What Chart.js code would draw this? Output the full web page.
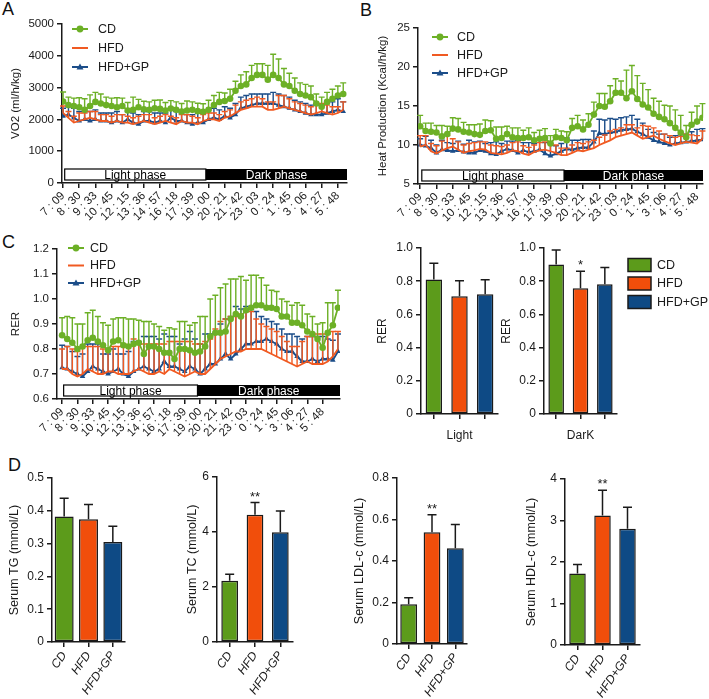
<!DOCTYPE html>
<html>
<head>
<meta charset="utf-8">
<script src="https://cdn.jsdelivr.net/npm/chart.js@4.4.1/dist/chart.umd.min.js"></script>
<style>
	body { margin: 0; background: #fff; }
	#page { position: relative; width: 709px; height: 699px; overflow: hidden; font-family: 'Liberation Sans', Arial, sans-serif; }
	canvas { position: absolute; }
	.tag { position: absolute; font-size: 18px; line-height: 1; color: #111; }
</style>
</head>
<body>
<div id="page">
	<div class="tag" style="left:2px;top:0px">A</div>
	<div class="tag" style="left:360px;top:1px">B</div>
	<div class="tag" style="left:2px;top:233px">C</div>
	<div class="tag" style="left:8px;top:456px">D</div>
	<canvas id="vo2"></canvas>
	<canvas id="heat"></canvas>
	<canvas id="rer"></canvas>
	<canvas id="rer-light"></canvas>
	<canvas id="rer-dark"></canvas>
	<canvas id="tg"></canvas>
	<canvas id="tc"></canvas>
	<canvas id="ldl"></canvas>
	<canvas id="hdl"></canvas>
</div>
<script>
const FONT = "'Liberation Sans', Arial, sans-serif"
Chart.defaults.font.family = FONT
Chart.defaults.color = '#1a1a1a'
Chart.defaults.animation = false

const groups = ['CD', 'HFD', 'HFD+GP']
const lineColors = ['#6cb026', '#f05a22', '#1b4d89']
const barColors = ['#5c9b1b', '#f14e0b', '#0e4a85']
const timeLabels = ['7 : 09', '8 : 30', '9 : 33', '10 : 45', '12 : 15', '13 : 36', '14 : 57', '16 : 18', '17 : 39',
	'19 : 00', '20 : 21', '21 : 42', '23 : 03', '0 : 24', '1 : 45', '3 : 06', '4 : 27', '5 : 48']
const lightStart = 0.3
const lightEnd = 26.5

// A - VO2 (ml/h/kg)
const vo2CD = [2560, 2450, 2420, 2380, 2300, 2420, 2550, 2500, 2450, 2420,
	2380, 2420, 2280, 2300, 2380, 2320, 2300, 2350, 2330, 2280,
	2340, 2300, 2250, 2280, 2300, 2260, 2240, 2300,
	2450, 2550, 2580, 2650, 2900, 3050, 3100, 3300, 3400, 3400, 3250, 3400, 3300, 3100,
	3050, 2900, 2800, 2750, 2700, 2500, 2400, 2550, 2650, 2750, 2800]
const vo2CDErr = [300, 250, 250, 300, 350, 350, 300, 300, 250, 250,
	300, 250, 250, 400, 250, 250, 250, 250, 280, 250,
	250, 250, 250, 300, 250, 250, 250, 300,
	300, 300, 250, 300, 300, 350, 400, 400, 350, 350, 450, 650, 600, 500,
	400, 400, 350, 350, 350, 300, 300, 300, 300, 300, 350]
const vo2HFD = [2200, 2050, 1900, 1950, 2000, 2050, 2000, 1950, 1950, 1900,
	1950, 1900, 1900, 1850, 1900, 1950, 1900, 1850, 1900, 1950,
	1900, 1850, 1950, 1900, 1900, 1850, 1950, 2000,
	2000, 1950, 2050, 2100, 2200, 2300, 2350, 2400, 2400, 2400, 2300, 2300, 2350, 2400,
	2350, 2300, 2250, 2200, 2150, 2200, 2250, 2200, 2150, 2200, 2300]
const vo2HFDErr = [220, 200, 200, 250, 200, 200, 250, 200, 200, 200,
	200, 250, 200, 200, 200, 200, 250, 200, 200, 200,
	200, 200, 200, 250, 200, 200, 200, 200,
	200, 200, 200, 200, 250, 250, 250, 250, 300, 250, 250, 250, 400, 350,
	300, 250, 250, 250, 250, 250, 250, 250, 250, 200, 250]
const vo2GP = [2100, 2150, 2050, 1950, 2000, 1950, 2000, 1950, 1950, 1900,
	1950, 1900, 2000, 1900, 1850, 1950, 1950, 1900, 1950, 1900,
	2050, 1950, 1950, 1900, 1850, 1900, 1900, 2000,
	2050, 2000, 2100, 2050, 2150, 2350, 2400, 2450, 2500, 2500, 2500, 2500, 2450, 2400,
	2350, 2300, 2250, 2200, 2150, 2150, 2150, 2200, 2250, 2300, 2250]
const vo2GPErr = [250, 250, 300, 300, 250, 300, 300, 250, 250, 300,
	300, 250, 250, 300, 300, 300, 300, 300, 250, 300,
	300, 300, 250, 250, 300, 300, 300, 300,
	300, 300, 300, 300, 350, 350, 350, 350, 300, 300, 300, 350, 350, 350,
	350, 300, 300, 300, 300, 300, 300, 300, 300, 350, 300]

// B - Heat production (Kcal/h/kg)
const heatCD = [12.4, 11.8, 11.7, 11.6, 11.1, 11.4, 12.1, 12.0, 11.7, 11.6,
	11.4, 11.3, 11.8, 11.9, 10.8, 10.9, 11.4, 11.0, 10.9, 10.9,
	11.0, 10.6, 10.8, 10.9, 10.2, 11.0, 10.9, 10.6,
	12.2, 12.4, 12.0, 12.6, 13.9, 15.0, 14.9, 15.6, 16.7, 16.7, 16.0, 16.9, 15.9, 15.2,
	14.8, 14.0, 13.6, 13.3, 12.8, 12.2, 11.6, 11.0, 12.6, 13.0, 13.5]
const heatCDErr = [1.4, 1.0, 1.1, 0.9, 1.4, 1.0, 1.4, 1.4, 1.2, 1.0,
	1.2, 1.4, 1.4, 1.2, 1.5, 1.4, 1.0, 1.2, 1.3, 1.0,
	1.2, 1.0, 1.1, 1.2, 1.0, 1.0, 0.9, 1.1,
	1.2, 1.4, 1.2, 1.4, 1.6, 1.6, 1.7, 2.0, 1.8, 1.5, 3.6, 3.3, 3.0, 2.7,
	2.3, 2.0, 2.0, 1.8, 2.2, 2.3, 2.2, 1.5, 1.6, 2.0, 1.8]
const heatHFD = [9.8, 10.0, 9.2, 8.9, 9.3, 9.6, 9.8, 9.4, 9.0, 9.2,
	9.3, 9.5, 9.4, 9.0, 8.9, 8.8, 9.0, 9.3, 9.2, 8.9,
	8.7, 9.1, 9.3, 9.4, 9.2, 9.0, 8.7, 8.7,
	9.0, 9.3, 9.2, 9.4, 9.6, 10.0, 10.3, 10.6, 11.0, 11.2, 11.4, 11.6, 11.2, 10.8,
	11.0, 11.2, 10.8, 10.5, 10.2, 10.0, 10.2, 10.4, 10.3, 10.2, 10.8]
const heatHFDErr = [1.4, 1.2, 1.0, 1.0, 1.2, 1.6, 1.0, 1.0, 1.0, 1.0,
	1.0, 0.9, 1.0, 1.0, 1.0, 1.0, 1.0, 1.0, 1.2, 1.0,
	1.0, 0.9, 1.0, 1.0, 1.0, 1.0, 0.9, 0.9,
	1.0, 1.0, 1.0, 1.0, 1.0, 1.0, 1.0, 1.2, 1.0, 1.0, 1.2, 1.0, 1.0, 1.7,
	1.4, 1.0, 1.0, 0.9, 1.0, 1.0, 0.9, 1.0, 1.0, 1.0, 1.0]
const heatGP = [10.0, 9.9, 9.6, 9.0, 9.4, 9.3, 9.2, 9.3, 9.1, 9.0,
	9.0, 9.3, 9.2, 8.9, 8.8, 9.2, 9.5, 9.3, 9.0, 9.3,
	9.1, 9.2, 9.4, 8.9, 8.6, 8.9, 9.2, 9.5,
	9.4, 9.6, 9.7, 9.7, 10.4, 11.5, 11.4, 11.6, 11.7, 11.9, 12.0, 12.1, 11.7, 11.4,
	11.0, 10.6, 10.4, 10.2, 10.0, 10.2, 10.3, 10.4, 10.5, 10.6, 10.7]
const heatGPErr = [0.8, 1.2, 1.0, 1.0, 1.2, 1.0, 1.0, 1.2, 1.0, 1.6,
	1.4, 1.2, 1.0, 1.4, 1.6, 1.0, 1.0, 1.2, 1.6, 1.0,
	1.2, 1.0, 1.2, 1.4, 1.6, 1.0, 1.0, 1.4,
	1.2, 1.0, 1.0, 1.0, 1.4, 1.8, 1.8, 1.8, 1.6, 1.6, 1.6, 1.7, 1.6, 1.4,
	1.0, 1.0, 1.0, 1.2, 1.0, 1.0, 1.0, 1.0, 1.2, 1.4, 1.4]

// C - RER time course
const rerCD = [0.855, 0.84, 0.825, 0.80, 0.81, 0.835, 0.845, 0.83, 0.815, 0.795,
	0.83, 0.835, 0.815, 0.81, 0.82, 0.825, 0.78, 0.81, 0.81, 0.80,
	0.785, 0.785, 0.76, 0.80, 0.80, 0.795, 0.785, 0.79, 0.81, 0.85,
	0.865, 0.865, 0.87, 0.92, 0.94, 0.93, 0.955, 0.965, 0.975, 0.975,
	0.965, 0.965, 0.96, 0.93, 0.93, 0.905, 0.905, 0.895, 0.87, 0.86,
	0.84, 0.805, 0.865, 0.895, 0.965]
const rerCDErr = [0.07, 0.09, 0.10, 0.10, 0.09, 0.11, 0.11, 0.10, 0.09, 0.10,
	0.09, 0.09, 0.11, 0.11, 0.10, 0.09, 0.13, 0.10, 0.09, 0.09,
	0.09, 0.10, 0.12, 0.11, 0.11, 0.10, 0.12, 0.14, 0.12, 0.15,
	0.15, 0.18, 0.19, 0.16, 0.14, 0.16, 0.12, 0.13, 0.12, 0.11,
	0.09, 0.07, 0.07, 0.07, 0.06, 0.07, 0.08, 0.08, 0.07, 0.07,
	0.06, 0.10, 0.12, 0.09, 0.07]
const rerHFD = [0.72, 0.72, 0.70, 0.69, 0.70, 0.72, 0.71, 0.70, 0.70, 0.71,
	0.71, 0.70, 0.70, 0.70, 0.71, 0.72, 0.71, 0.70, 0.70, 0.71,
	0.70, 0.72, 0.71, 0.70, 0.69, 0.70, 0.71, 0.70, 0.70, 0.72,
	0.74, 0.76, 0.77, 0.78, 0.79, 0.79, 0.80, 0.80, 0.80, 0.80,
	0.79, 0.78, 0.77, 0.76, 0.75, 0.74, 0.73, 0.74, 0.75, 0.74,
	0.74, 0.74, 0.75, 0.77, 0.80]
const rerHFDErr = [0.08, 0.09, 0.10, 0.10, 0.11, 0.09, 0.10, 0.11, 0.10, 0.09,
	0.10, 0.11, 0.12, 0.11, 0.13, 0.10, 0.11, 0.12, 0.12, 0.11,
	0.12, 0.11, 0.12, 0.13, 0.14, 0.13, 0.11, 0.12, 0.13, 0.12,
	0.14, 0.15, 0.15, 0.15, 0.14, 0.15, 0.15, 0.15, 0.12, 0.10,
	0.10, 0.10, 0.10, 0.09, 0.08, 0.07, 0.08, 0.09, 0.10, 0.11,
	0.12, 0.12, 0.11, 0.10, 0.07]
const rerGP = [0.725, 0.72, 0.71, 0.70, 0.69, 0.71, 0.73, 0.72, 0.71, 0.70,
	0.71, 0.72, 0.70, 0.69, 0.71, 0.72, 0.73, 0.72, 0.71, 0.72,
	0.75, 0.73, 0.73, 0.72, 0.71, 0.73, 0.72, 0.70, 0.72, 0.74,
	0.74, 0.76, 0.78, 0.76, 0.78, 0.80, 0.82, 0.82, 0.83, 0.83,
	0.84, 0.83, 0.82, 0.80, 0.79, 0.79, 0.77, 0.75, 0.75, 0.76,
	0.75, 0.76, 0.76, 0.755, 0.79]
const rerGPErr = [0.09, 0.09, 0.08, 0.07, 0.09, 0.11, 0.09, 0.10, 0.07, 0.08,
	0.09, 0.06, 0.08, 0.10, 0.12, 0.11, 0.12, 0.13, 0.14, 0.12,
	0.11, 0.12, 0.12, 0.10, 0.13, 0.14, 0.12, 0.12, 0.14, 0.12,
	0.12, 0.14, 0.14, 0.17, 0.19, 0.16, 0.15, 0.14, 0.12, 0.10,
	0.08, 0.08, 0.08, 0.08, 0.07, 0.07, 0.08, 0.09, 0.10, 0.09,
	0.10, 0.09, 0.08, 0.08, 0.07]

// C - RER by phase
const rerLight = [0.81, 0.71, 0.722]
const rerLightErr = [0.098, 0.092, 0.086]
const rerDark = [0.90, 0.758, 0.782]
const rerDarkErr = [0.088, 0.102, 0.10]
const rerDarkStars = ['', '*', '']

// D - serum lipids (mmol/L)
const tg = [0.383, 0.374, 0.305]
const tgErr = [0.055, 0.045, 0.048]
const tc = [2.23, 4.63, 3.99]
const tcErr = [0.23, 0.44, 0.77]
const ldl = [0.192, 0.538, 0.462]
const ldlErr = [0.031, 0.085, 0.114]
const hdl = [1.72, 3.12, 2.80]
const hdlErr = [0.22, 0.61, 0.52]
const lipidStars = ['', '**', '']

function fitTo(id, b) {
	const c = document.getElementById(id)
	c.width = b.R - b.L + b.yW + b.pr
	c.height = b.B - b.T + b.pt + b.xH
	c.style.left = b.L - b.yW + 'px'
	c.style.top = b.T - b.pt + 'px'
	return c
}
const fixY = w => s => { s.width = w; s.paddingTop = 0; s.paddingBottom = 0; s.paddingLeft = 0; s.paddingRight = 0 }
const fixX = h => s => { s.height = h; s.paddingTop = 0; s.paddingBottom = 0; s.paddingLeft = 0; s.paddingRight = 0 }
const ink = '#1a1a1a'
const axisLook = {
	border: { display: true, color: ink, width: 1.5 },
	grid: { drawOnChartArea: false, drawTicks: true, tickLength: 5, color: ink, lineWidth: 1.5 }
}

const lineErrors = {
	id: 'lineErrors',
	beforeDatasetDraw(chart, args) {
		const ds = chart.data.datasets[args.index]
		const y = chart.scales.y
		const ctx = chart.ctx
		ctx.save()
		ctx.strokeStyle = ds.borderColor
		ctx.lineWidth = 1.4
		args.meta.data.forEach((pt, i) => {
			const top = y.getPixelForValue(ds.data[i].y + ds.errors[i])
			ctx.beginPath()
			ctx.moveTo(pt.x, pt.y)
			ctx.lineTo(pt.x, top)
			ctx.moveTo(pt.x - 3, top)
			ctx.lineTo(pt.x + 3, top)
			ctx.stroke()
		})
		ctx.restore()
	}
}

function phaseBar(start, split) {
	return {
		id: 'phaseBar',
		afterDatasetsDraw(chart) {
			const { ctx, chartArea: a, scales: { x } } = chart
			const x0 = x.getPixelForValue(start)
			const x1 = x.getPixelForValue(split)
			const x2 = a.right
			const top = a.bottom - 14
			const h = 11
			ctx.save()
			ctx.fillStyle = '#fff'
			ctx.fillRect(x0, top, x1 - x0, h)
			ctx.strokeStyle = '#000'
			ctx.lineWidth = 1.2
			ctx.strokeRect(x0, top, x1 - x0, h)
			ctx.fillStyle = '#000'
			ctx.fillRect(x1, top, x2 - x1, h)
			ctx.font = '12px ' + FONT
			ctx.textAlign = 'center'
			ctx.textBaseline = 'middle'
			ctx.fillText('Light phase', (x0 + x1) / 2, top + h / 2 + 1)
			ctx.fillStyle = '#fff'
			ctx.fillText('Dark phase', (x1 + x2) / 2, top + h / 2 + 1)
			ctx.restore()
		}
	}
}

function seriesKey(dx, dy, gap, size, textGap) {
	return {
		id: 'seriesKey',
		afterDraw(chart) {
			const { ctx, chartArea: a } = chart
			ctx.save()
			chart.data.datasets.forEach((ds, k) => {
				const cx = a.left + dx
				const cy = a.top + dy + k * gap
				ctx.strokeStyle = ds.borderColor
				ctx.fillStyle = ds.borderColor
				ctx.lineWidth = 2
				ctx.beginPath()
				ctx.moveTo(cx - 8, cy)
				ctx.lineTo(cx + 8, cy)
				ctx.stroke()
				if (ds.pointRadius > 0 && ds.pointStyle === 'circle') {
					ctx.beginPath()
					ctx.arc(cx, cy, 3.4, 0, Math.PI * 2)
					ctx.fill()
				} else if (ds.pointRadius > 0 && ds.pointStyle === 'triangle') {
					ctx.beginPath()
					ctx.moveTo(cx, cy - 3.5)
					ctx.lineTo(cx + 3.5, cy + 2.5)
					ctx.lineTo(cx - 3.5, cy + 2.5)
					ctx.closePath()
					ctx.fill()
				}
				ctx.fillStyle = ink
				ctx.font = size + 'px ' + FONT
				ctx.textAlign = 'left'
				ctx.textBaseline = 'middle'
				ctx.fillText(ds.label, cx + textGap, cy + 0.5)
			})
			ctx.restore()
		}
	}
}

function timeChart(id, b, cfg) {
	new Chart(fitTo(id, b), {
		type: 'line',
		data: {
			datasets: cfg.series.map((s, k) => ({
				label: groups[k],
				data: s.map((v, i) => ({ x: i, y: v })),
				errors: cfg.errors[k],
				borderColor: lineColors[k],
				backgroundColor: lineColors[k],
				borderWidth: 1.8,
				pointStyle: ['circle', 'circle', 'triangle'][k],
				pointRadius: [3.3, 0, 3.2][k],
				pointBorderWidth: 0,
				tension: 0
			}))
		},
		options: {
			responsive: false,
			events: [],
			layout: { padding: { top: b.pt, right: b.pr, left: 0, bottom: 0 } },
			plugins: { legend: { display: false }, tooltip: { enabled: false } },
			scales: {
				x: {
					type: 'linear',
					min: cfg.xMin,
					max: cfg.xMax,
					...axisLook,
					afterBuildTicks: s => { s.ticks = timeLabels.map((t, i) => ({ value: i * 3 })) },
					afterFit: fixX(b.xH),
					ticks: {
						autoSkip: false,
						minRotation: 45,
						maxRotation: 45,
						padding: 1,
						font: { size: 11.5 },
						callback: v => timeLabels[Math.round(v / 3)]
					}
				},
				y: {
					min: cfg.yMin,
					max: cfg.yMax,
					...axisLook,
					afterFit: fixY(b.yW),
					ticks: { stepSize: cfg.step, font: { size: 11.5 }, padding: 3, callback: cfg.fmt },
					title: { display: true, text: cfg.title, font: { size: 11.5 }, padding: { top: cfg.titlePad, bottom: 0 } }
				}
			}
		},
		plugins: [lineErrors, phaseBar(lightStart, lightEnd), seriesKey(...cfg.key)]
	})
}

const barErrors = {
	id: 'barErrors',
	afterDatasetsDraw(chart) {
		const { ctx, scales: { y } } = chart
		const ds = chart.data.datasets[0]
		ctx.save()
		ctx.strokeStyle = ink
		ctx.fillStyle = ink
		ctx.lineWidth = 1.5
		ctx.font = '13px ' + FONT
		ctx.textAlign = 'center'
		ctx.textBaseline = 'alphabetic'
		chart.getDatasetMeta(0).data.forEach((bar, i) => {
			const top = y.getPixelForValue(ds.data[i] + ds.errors[i])
			ctx.beginPath()
			ctx.moveTo(bar.x, bar.y)
			ctx.lineTo(bar.x, top)
			ctx.moveTo(bar.x - 4.5, top)
			ctx.lineTo(bar.x + 4.5, top)
			ctx.stroke()
			if (ds.stars && ds.stars[i]) ctx.fillText(ds.stars[i], bar.x, top - 2)
		})
		ctx.restore()
	}
}

const groupKey = {
	id: 'groupKey',
	afterDraw(chart) {
		const { ctx, chartArea: a } = chart
		ctx.save()
		ctx.font = '12.5px ' + FONT
		ctx.textBaseline = 'middle'
		groups.forEach((g, k) => {
			const x = a.right + 11
			const cy = a.top + 17 + k * 18.5
			ctx.fillStyle = barColors[k]
			ctx.fillRect(x, cy - 6.5, 23, 13)
			ctx.strokeStyle = ink
			ctx.lineWidth = 1.5
			ctx.strokeRect(x, cy - 6.5, 23, 13)
			ctx.fillStyle = ink
			ctx.fillText(g, x + 29, cy + 0.5)
		})
		ctx.restore()
	}
}

function groupBars(id, b, cfg) {
	new Chart(fitTo(id, b), {
		type: 'bar',
		data: {
			labels: groups,
			datasets: [{
				data: cfg.means,
				errors: cfg.errors,
				stars: cfg.stars,
				backgroundColor: barColors,
				borderColor: ink,
				borderWidth: 1.5,
				borderSkipped: false,
				barPercentage: cfg.barPct || 0.66,
				categoryPercentage: 1
			}]
		},
		options: {
			responsive: false,
			events: [],
			layout: { padding: { top: b.pt, right: b.pr, left: 0, bottom: 0 } },
			plugins: { legend: { display: false }, tooltip: { enabled: false } },
			scales: {
				x: {
					offset: true,
					...axisLook,
					grid: { ...axisLook.grid, offset: false },
					afterFit: fixX(b.xH),
					ticks: cfg.xLabels
						? { autoSkip: false, minRotation: 55, maxRotation: 55, padding: 2, font: { size: 12, style: 'italic' } }
						: { autoSkip: false, callback: () => '' },
					title: cfg.xTitle
						? { display: true, text: cfg.xTitle, font: { size: 12 }, padding: { top: 0, bottom: 1 } }
						: { display: false }
				},
				y: {
					min: 0,
					max: cfg.yMax,
					...axisLook,
					afterFit: fixY(b.yW),
					ticks: { stepSize: cfg.step, font: { size: cfg.tickSize }, padding: 3 },
					title: { display: true, text: cfg.title, font: { size: cfg.titleSize }, padding: { top: cfg.titlePad, bottom: 0 } }
				}
			}
		},
		plugins: cfg.key ? [barErrors, groupKey] : [barErrors]
	})
}

timeChart('vo2', { L: 62, T: 24, R: 347, B: 183, yW: 62, xH: 50, pt: 8, pr: 6 }, {
	series: [vo2CD, vo2HFD, vo2GP],
	errors: [vo2CDErr, vo2HFDErr, vo2GPErr],
	xMin: -0.2, xMax: 52.7,
	yMin: 0, yMax: 5000, step: 1000, fmt: v => String(v),
	title: 'VO2 (ml/h/kg)', titlePad: 9.2,
	key: [18, 5, 19, 12.5, 18]
})

timeChart('heat', { L: 418, T: 28, R: 703, B: 184, yW: 60, xH: 50, pt: 8, pr: 5 }, {
	series: [heatCD, heatHFD, heatGP],
	errors: [heatCDErr, heatHFDErr, heatGPErr],
	xMin: -0.4, xMax: 52.1,
	yMin: 5, yMax: 25, step: 5, fmt: v => String(v),
	title: 'Heat Production (Kcal/h/kg)', titlePad: 18.2,
	key: [22, 9, 18, 12.5, 17]
})

timeChart('rer', { L: 57, T: 249, R: 340, B: 399, yW: 57, xH: 50, pt: 8, pr: 6 }, {
	series: [rerCD, rerHFD, rerGP],
	errors: [rerCDErr, rerHFDErr, rerGPErr],
	xMin: -1, xMax: 54.4,
	yMin: 0.6, yMax: 1.2, step: 0.1, fmt: v => v.toFixed(1),
	title: 'RER', titlePad: 9.2,
	key: [19, -1, 17.5, 12.5, 14]
})

groupBars('rer-light', { L: 421, T: 248, R: 498, B: 414, yW: 49, xH: 30, pt: 8, pr: 5 }, {
	means: rerLight, errors: rerLightErr, barPct: 0.64,
	yMax: 1.0, step: 0.2, tickSize: 12,
	title: 'RER', titleSize: 12, titlePad: 3.8,
	xTitle: 'Light'
})

groupBars('rer-dark', { L: 544, T: 248, R: 617, B: 414, yW: 48, xH: 30, pt: 8, pr: 92 }, {
	means: rerDark, errors: rerDarkErr, stars: rerDarkStars, barPct: 0.64,
	yMax: 1.0, step: 0.2, tickSize: 12,
	title: 'RER', titleSize: 12, titlePad: 3.8,
	xTitle: 'DarK', key: true
})

groupBars('tg', { L: 52, T: 478, R: 125, B: 642, yW: 48, xH: 56, pt: 8, pr: 8 }, {
	means: tg, errors: tgErr, barPct: 0.78,
	yMax: 0.5, step: 0.1, tickSize: 12,
	title: 'Serum TG (mmol/L)', titleSize: 12.5, titlePad: 3.2, xLabels: true
})

groupBars('tc', { L: 217, T: 477, R: 293, B: 642, yW: 35, xH: 56, pt: 8, pr: 8 }, {
	means: tc, errors: tcErr, stars: lipidStars,
	yMax: 6, step: 2, tickSize: 12,
	title: 'Serum TC (mmol/L)', titleSize: 12.5, titlePad: 3.2, xLabels: true
})

groupBars('ldl', { L: 397, T: 478, R: 467, B: 644, yW: 48, xH: 54, pt: 8, pr: 8 }, {
	means: ldl, errors: ldlErr, stars: lipidStars, barPct: 0.72,
	yMax: 0.8, step: 0.2, tickSize: 12,
	title: 'Serum LDL-c (mmol/L)', titleSize: 12.5, titlePad: 3.2, xLabels: true
})

groupBars('hdl', { L: 565, T: 479, R: 640, B: 645, yW: 44, xH: 53, pt: 8, pr: 8 }, {
	means: hdl, errors: hdlErr, stars: lipidStars,
	yMax: 4, step: 1, tickSize: 12,
	title: 'Serum HDL-c (mmol/L)', titleSize: 12.5, titlePad: 3.2, xLabels: true
})
</script>
</body>
</html>
